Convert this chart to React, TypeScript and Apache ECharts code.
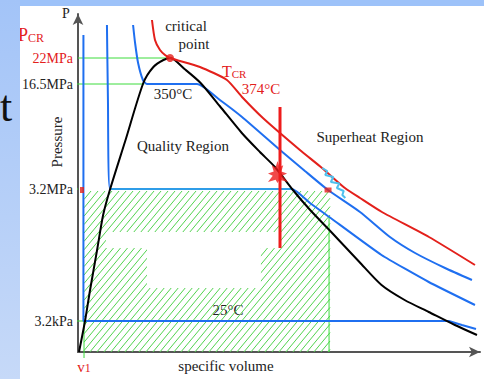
import React, { useEffect, useRef } from "react";
import * as echarts from "echarts";

// ---- schematic P-v diagram data (x: specific volume, y: pressure, schematic units) ----
const saturationDome: [number, number][] = [
  [0.5, 0], [3.5, 15.5], [6, 31], [9.5, 51], [12.5, 68.5], [16, 81.5], [23.5, 105.5],
  [32.5, 134.5], [37.5, 142.5], [42.5, 146], [46, 147], [53, 141.5], [61, 134.5],
  [70.5, 123], [81.5, 109.5], [90.5, 100], [98, 92.5], [106.5, 81.5], [115.5, 71],
  [125.5, 60.5], [140, 45], [151, 33.5], [162.5, 26], [174.5, 20], [187.5, 13.5], [198.5, 8.5],
];
const isotherm25: [number, number][] = [
  [2.7, 158.5], [2.7, 15.5], [184.5, 15.5], [191, 13.5], [198, 11.5],
];
const isotherm3p2: [number, number][] = [
  [14.4, 163.5], [14.9, 126], [15.9, 81.5], [106.5, 81.5], [115.4, 74.5], [125, 67.5],
  [151, 48.5], [174.5, 35], [197.5, 23.5],
];
const isotherm3p2Flat: [number, number][] = [[15.9, 81.5], [106.5, 81.5]];
const isotherm350: [number, number][] = [
  [27.4, 163.5], [28.4, 154.5], [29.9, 144.5], [32.3, 136], [34.3, 134], [59.2, 134],
  [70.6, 126], [81.6, 117.5], [100.5, 101], [112.9, 90.5], [124.4, 81], [140.3, 70],
  [155.2, 57.5], [167.7, 49.5], [182.6, 42], [196, 36],
];
const isothermCritical: [number, number][] = [
  [36.8, 166], [38.3, 156], [40.8, 151], [43.3, 148.5], [45.8, 147], [60.7, 142.5],
  [74.1, 136], [81.6, 127.5], [92, 117], [110.4, 101], [121.4, 92], [132.8, 82],
  [140.3, 77], [151.2, 70], [174.6, 57.5], [197.5, 43.5],
];
const guide22MPa: [number, number][] = [[0, 147], [45.8, 147]];
const guide16MPa: [number, number][] = [[-3, 134], [33, 134]];
const guide3MPa: [number, number][] = [[-2.5, 81.5], [0, 81.5]];
const guide3kPa: [number, number][] = [[-3, 15.5], [3, 15.5]];
const guideV1: [number, number][] = [[3, 15.5], [3, -3]];
const guideRight: [number, number][] = [[124.9, 0], [124.9, 67.5]];
const redProcessLine: [number, number][] = [[100.5, 122.5], [100.5, 52]];
const cyanSquiggle: [number, number][] = [
  [121.5, 92], [124, 90.5], [123, 88.5], [127, 87.5], [125.8, 85], [130, 84.2],
  [128.8, 82], [132.2, 80.5], [131.5, 78.5], [133, 77],
];
const criticalPoint: [number, number][] = [[45.8, 147]];
const statePoint: [number, number][] = [[124.4, 81]];
const axisPoint: [number, number][] = [[2, 81]];
const blobPoint: [number, number][] = [[99.5, 90]];

// hatched region [x0, y0, x1, y1] and erased holes
const hatchRegion: number[] = [3, 0, 125.4, 80.5];
const hatchHoles: number[][] = [
  [13.9, 52, 100, 60],
  [34.3, 32, 91, 52],
];

// tick labels
const pressureTickValues = [158.5, 147, 134, 81.5, 15.5];
const pressureTickLabels = ["PCR", "22MPa", "16.5MPa", "3.2MPa", "3.2kPa"];
const volumeTickValues = [3];
const volumeTickLabels = ["v1"];

const FONT = '"Liberation Serif", "Times New Roman", "DejaVu Serif", serif';
const RED = "#e3201b";
const BLUE = "#1f6ff0";
const LIGHTBLUE = "#2f9de8";
const GREEN = "#3ddc3d";

export default function App() {
  const ref = useRef<HTMLDivElement>(null);

  useEffect(() => {
    if (!ref.current) return;
    const chart = echarts.init(ref.current, undefined, { renderer: "svg" });

    const lineSeries = (data: [number, number][], color: string, width: number, smooth: number | boolean, z = 3, clip = true) => ({
      type: "line",
      data,
      showSymbol: false,
      smooth,
      clip,
      silent: true,
      z,
      lineStyle: { color, width },
    });

    const yLabel = (v: number) => {
      const i = pressureTickValues.indexOf(v);
      if (i < 0) return "";
      const t = pressureTickLabels[i];
      if (t === "PCR") return "{p|P}{c|CR}{s|}";
      if (i === 1) return `{r|${t}}`;
      return `{k|${t}}`;
    };
    const xLabel = (v: number) => {
      const i = volumeTickValues.indexOf(v);
      if (i < 0) return "";
      const t = volumeTickLabels[i];
      return `{v|${t[0]}}{n|${t.slice(1)}}`;
    };

    const option: any = {
      animation: false,
      backgroundColor: "#ffffff",
      grid: { left: 78, right: 4, top: 14, bottom: 27 },
      xAxis: {
        type: "value",
        min: 0,
        max: 200,
        interval: 1,
        axisLine: { show: true, onZero: false, symbol: ["none", "arrow"], symbolSize: [8, 11], lineStyle: { color: "#555", width: 2 } },
        axisTick: { show: false },
        splitLine: { show: false },
        axisLabel: {
          margin: 7,
          formatter: xLabel,
          rich: {
            v: { fontFamily: FONT, fontSize: 15, color: RED },
            n: { fontFamily: FONT, fontSize: 12, color: RED, padding: [3, 0, 0, 0] },
          },
        },
      },
      yAxis: {
        type: "value",
        min: 0,
        max: 169,
        interval: 0.5,
        axisLine: { show: true, onZero: false, symbol: ["none", "arrow"], symbolSize: [8, 11], lineStyle: { color: "#555", width: 2 } },
        axisTick: { show: false },
        splitLine: { show: false },
        axisLabel: {
          margin: 5,
          formatter: yLabel,
          rich: {
            p: { fontFamily: FONT, fontSize: 18, color: RED },
            c: { fontFamily: FONT, fontSize: 12, color: RED, padding: [5, 0, 0, 0] },
            s: { width: 29 },
            r: { fontFamily: FONT, fontSize: 14, color: RED },
            k: { fontFamily: FONT, fontSize: 14, color: "#222" },
          },
        },
      },
      series: [
        {
          type: "custom",
          coordinateSystem: "cartesian2d",
          silent: true,
          z: 1,
          clip: false,
          data: [hatchRegion],
          encode: { x: [0, 2], y: [1, 3] },
          renderItem: (_params: any, api: any) => {
            const a = api.coord([api.value(0), api.value(3)]);
            const b = api.coord([api.value(2), api.value(1)]);
            const L = a[0], T = a[1], R = b[0], B = b[1];
            const k = 1.2;
            const s = 7;
            const children: any[] = [];
            for (let c = k * L + T; c <= k * R + B; c += k * s) {
              const xa = Math.max(L, (c - B) / k);
              const xb = Math.min(R, (c - T) / k);
              if (xb <= xa) continue;
              children.push({
                type: "line",
                shape: { x1: xa, y1: c - k * xa, x2: xb, y2: c - k * xb },
                style: { stroke: "#52d34f", lineWidth: 1 },
              });
            }
            hatchHoles.forEach((h) => {
              const p = api.coord([h[0], h[3]]);
              const q = api.coord([h[2], h[1]]);
              children.push({
                type: "rect",
                shape: { x: p[0], y: p[1], width: q[0] - p[0], height: q[1] - p[1] },
                style: { fill: "#ffffff" },
              });
            });
            return { type: "group", children };
          },
        },
        lineSeries(guide22MPa, GREEN, 1, false, 2, false),
        lineSeries(guide16MPa, GREEN, 1, false, 2, false),
        lineSeries(guide3MPa, GREEN, 1, false, 2, false),
        lineSeries(guide3kPa, GREEN, 1, false, 2, false),
        lineSeries(guideV1, GREEN, 1, false, 2, false),
        lineSeries(guideRight, GREEN, 1, false, 2, false),
        lineSeries(isotherm25, BLUE, 2, false),
        lineSeries(isotherm3p2, BLUE, 2, 0.15),
        lineSeries(isotherm3p2Flat, LIGHTBLUE, 2, false, 4),
        lineSeries(isotherm350, BLUE, 2, 0.2),
        lineSeries(saturationDome, "#000000", 2, 0.25, 5),
        lineSeries(isothermCritical, RED, 2, 0.2, 5),
        lineSeries(redProcessLine, "#ee1c1c", 3, false, 6),
        lineSeries(cyanSquiggle, "#4ec0ee", 2, false, 6),
        {
          type: "scatter",
          data: criticalPoint,
          symbol: "circle",
          symbolSize: 8,
          itemStyle: { color: RED },
          z: 7,
          silent: true,
        },
        {
          type: "scatter",
          data: statePoint,
          symbol: "rect",
          symbolSize: [7, 5],
          itemStyle: { color: RED },
          z: 7,
          silent: true,
        },
        {
          type: "scatter",
          data: axisPoint,
          symbol: "rect",
          symbolSize: [4, 6],
          itemStyle: { color: RED },
          z: 7,
          silent: true,
          clip: false,
        },
        {
          type: "scatter",
          data: blobPoint,
          symbol:
            "path://M10,0 L12,6 L16,4 L14,10 L20,12 L15,14 L21,20 L12,18 L10,21 L8,18 L0,20 L5,14 L0,12 L6,10 L4,4 L8,6 Z",
          symbolSize: [20, 22],
          itemStyle: { color: "#ee1c1c" },
          z: 7,
          silent: true,
        },
      ],
      graphic: [
        { type: "rect", silent: true, z: 100, shape: { x: 0, y: 0, width: 484, height: 6 }, style: { fill: "#9dc2f9" } },
        {
          type: "rect",
          silent: true,
          z: 100,
          shape: { x: 0, y: 0, width: 20, height: 379 },
          style: {
            fill: new echarts.graphic.LinearGradient(0, 0, 0, 1, [
              { offset: 0, color: "#a3c4f8" },
              { offset: 1, color: "#c6d9f8" },
            ]),
          },
        },
        { type: "text", silent: true, z: 101, x: 0, y: 84, style: { text: "t", font: `44px ${FONT}`, fill: "#111" } },
        { type: "text", silent: true, x: 66, y: 13, style: { text: "P", font: `14px ${FONT}`, fill: "#222", align: "center", verticalAlign: "middle" } },
        { type: "text", silent: true, x: 57, y: 142, rotation: Math.PI / 2, style: { text: "Pressure", font: `15px ${FONT}`, fill: "#222", align: "center", verticalAlign: "middle" } },
        { type: "text", silent: true, x: 226, y: 366, style: { text: "specific volume", font: `15px ${FONT}`, fill: "#222", align: "center", verticalAlign: "middle" } },
        { type: "text", silent: true, x: 186, y: 26, style: { text: "critical", font: `15px ${FONT}`, fill: "#222", align: "center", verticalAlign: "middle" } },
        { type: "text", silent: true, x: 194, y: 44, style: { text: "point", font: `15px ${FONT}`, fill: "#222", align: "center", verticalAlign: "middle" } },
        { type: "text", silent: true, x: 173, y: 94, style: { text: "350°C", font: `15px ${FONT}`, fill: "#222", align: "center", verticalAlign: "middle" } },
        {
          type: "text",
          silent: true,
          x: 222,
          y: 71,
          style: {
            text: "{t|T}{c|CR}",
            align: "left",
            verticalAlign: "middle",
            rich: {
              t: { font: `16px ${FONT}`, fill: RED },
              c: { font: `11px ${FONT}`, fill: RED, padding: [5, 0, 0, 0] },
            },
          },
        },
        { type: "text", silent: true, x: 261, y: 89, style: { text: "374°C", font: `15px ${FONT}`, fill: RED, align: "center", verticalAlign: "middle" } },
        { type: "text", silent: true, x: 183, y: 146, style: { text: "Quality Region", font: `15px ${FONT}`, fill: "#222", align: "center", verticalAlign: "middle" } },
        { type: "text", silent: true, x: 370, y: 137, style: { text: "Superheat Region", font: `15px ${FONT}`, fill: "#222", align: "center", verticalAlign: "middle" } },
        { type: "text", silent: true, x: 228, y: 310, style: { text: "25°C", font: `15px ${FONT}`, fill: "#222", align: "center", verticalAlign: "middle" } },
      ],
    };

    chart.setOption(option);
    return () => chart.dispose();
  }, []);

  return (
    <div
      ref={ref}
      style={{ position: "fixed", left: 0, top: 0, width: 484, height: 379 }}
    />
  );
}
